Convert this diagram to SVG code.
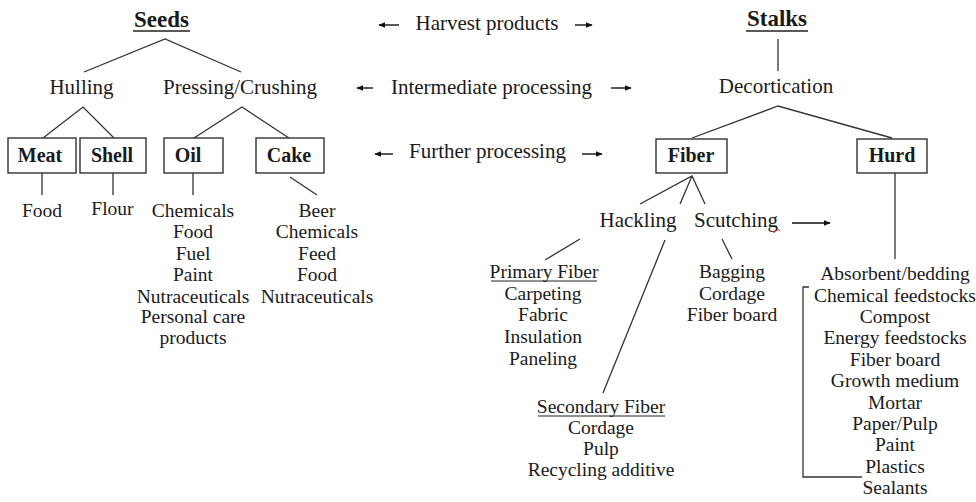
<svg xmlns="http://www.w3.org/2000/svg" width="976" height="502" viewBox="0 0 976 502">
<style>
text{font-family:"Liberation Serif","Times New Roman",serif;fill:#1a1a1a;text-anchor:middle}
.hd{font-size:23px;font-weight:bold}
.lb{font-size:21px}
.bx{font-size:20px;font-weight:bold}
.it{font-size:19.5px}
.ln{stroke:#333;stroke-width:1.3;fill:none}
.box{fill:#fff;stroke:#333;stroke-width:1.4}
.ar{stroke:#111;stroke-width:1.4;fill:none;marker-end:url(#ah)}
</style>
<defs>
<marker id="ah" viewBox="0 0 10 10" refX="9" refY="5" markerWidth="7" markerHeight="7" markerUnits="userSpaceOnUse" orient="auto">
<path d="M0,1 L10,5 L0,9 Z" fill="#111"/>
</marker>
</defs>
<rect width="976" height="502" fill="#fff"/>

<g id="connectors">
<path class="ln" d="M84,72 L165,39 L241,72"/>
<path class="ln" d="M43,138 L83,107 L114,138"/>
<path class="ln" d="M194,138 L242,107 L289,138"/>
<path class="ln" d="M42,173 V195 M113,173 V195 M193,173 V195 M290,177 L317,195"/>
<path class="ln" d="M778,39 V71"/>
<path class="ln" d="M692,138 L778,106 L892,138"/>
<path class="ln" d="M640,204 L692,176 L705,204 M692,176 L680,204"/>
<path class="ln" d="M580,239 L545,260"/>
<path class="ln" d="M665,240 L603,393"/>
<path class="ln" d="M722,239 L732,259"/>
<path class="ln" d="M895,173 V259"/>
<path class="ln" d="M809,287 H803 V477 H862"/>
<path class="ar" d="M792,223 H830"/>
<path class="ar" d="M399,25 H379"/>
<path class="ar" d="M575,25 H592"/>
<path class="ar" d="M373,88 H357"/>
<path class="ar" d="M611,88 H631"/>
<path class="ar" d="M393,154 H375"/>
<path class="ar" d="M582,154 H602"/>
</g>

<g id="seeds"><text class="hd" x="161.5" y="27">Seeds</text><line x1="133" y1="31" x2="190" y2="31" stroke="#222" stroke-width="1.6"/></g>
<g id="stalks"><text class="hd" x="777" y="26">Stalks</text><line x1="746" y1="31" x2="808" y2="31" stroke="#222" stroke-width="1.6"/></g>

<g id="harvest"><text class="lb" x="487" y="30">Harvest products</text></g>
<g id="intermediate"><text class="lb" x="491.5" y="94">Intermediate processing</text></g>
<g id="further"><text class="lb" x="487.5" y="158">Further processing</text></g>

<g id="hulling"><text class="lb" x="81.5" y="94">Hulling</text></g>
<g id="pressing"><text class="lb" x="240" y="94">Pressing/Crushing</text></g>
<g id="decortication"><text class="lb" x="776" y="93">Decortication</text></g>

<g id="meat"><rect class="box" x="8" y="138" width="68" height="35"/><text class="bx" x="40" y="162">Meat</text></g>
<g id="shell"><rect class="box" x="80" y="138" width="66" height="35"/><text class="bx" x="112" y="162">Shell</text></g>
<g id="oil"><rect class="box" x="164" y="138" width="59" height="35"/><text class="bx" x="188" y="162">Oil</text></g>
<g id="cake"><rect class="box" x="256" y="138" width="68" height="35"/><text class="bx" x="289" y="162">Cake</text></g>
<g id="fiber"><rect class="box" x="656" y="139" width="71" height="34"/><text class="bx" x="691" y="162">Fiber</text></g>
<g id="hurd"><rect class="box" x="857" y="139" width="70" height="34"/><text class="bx" x="892" y="162">Hurd</text></g>

<g id="meat-uses"><text class="it" x="42" y="217">Food</text></g>
<g id="shell-uses"><text class="it" x="112.5" y="215">Flour</text></g>
<g id="oil-uses" class="it">
<text class="it" x="193" y="217">Chemicals</text>
<text class="it" x="193" y="238">Food</text>
<text class="it" x="193" y="260">Fuel</text>
<text class="it" x="193" y="281">Paint</text>
<text class="it" x="193" y="303">Nutraceuticals</text>
<text class="it" x="193" y="323">Personal care</text>
<text class="it" x="193" y="344">products</text>
</g>
<g id="cake-uses">
<text class="it" x="317" y="217">Beer</text>
<text class="it" x="317" y="238">Chemicals</text>
<text class="it" x="317" y="260">Feed</text>
<text class="it" x="317" y="281">Food</text>
<text class="it" x="317" y="303">Nutraceuticals</text>
</g>

<g id="hackling"><text class="lb" x="638" y="227">Hackling</text></g>
<g id="scutching"><text class="lb" x="736" y="227">Scutching</text><path d="M772,231 q2,3 4,0 q2,-3 4,0" stroke="#c33" stroke-width="1" fill="none"/></g>

<g id="primary-fiber">
<text class="it" x="544" y="278">Primary Fiber</text>
<line x1="491" y1="281" x2="597" y2="281" stroke="#222" stroke-width="1"/>
<text class="it" x="543" y="300">Carpeting</text>
<text class="it" x="543" y="321">Fabric</text>
<text class="it" x="543" y="343">Insulation</text>
<text class="it" x="543" y="365">Paneling</text>
</g>
<g id="secondary-fiber">
<text class="it" x="601" y="413">Secondary Fiber</text>
<line x1="538" y1="416" x2="665" y2="416" stroke="#222" stroke-width="1"/>
<text class="it" x="601" y="434">Cordage</text>
<text class="it" x="601" y="455">Pulp</text>
<text class="it" x="601" y="476">Recycling additive</text>
</g>
<g id="scutching-uses">
<text class="it" x="732" y="278">Bagging</text>
<text class="it" x="732" y="300">Cordage</text>
<text class="it" x="732" y="321">Fiber board</text>
</g>
<g id="hurd-uses">
<text class="it" x="895" y="280">Absorbent/bedding</text>
<text class="it" x="895" y="302">Chemical feedstocks</text>
<text class="it" x="895" y="323">Compost</text>
<text class="it" x="895" y="344">Energy feedstocks</text>
<text class="it" x="895" y="366">Fiber board</text>
<text class="it" x="895" y="387">Growth medium</text>
<text class="it" x="895" y="409">Mortar</text>
<text class="it" x="895" y="430">Paper/Pulp</text>
<text class="it" x="895" y="451">Paint</text>
<text class="it" x="895" y="473">Plastics</text>
<text class="it" x="895" y="494">Sealants</text>
</g>
</svg>
